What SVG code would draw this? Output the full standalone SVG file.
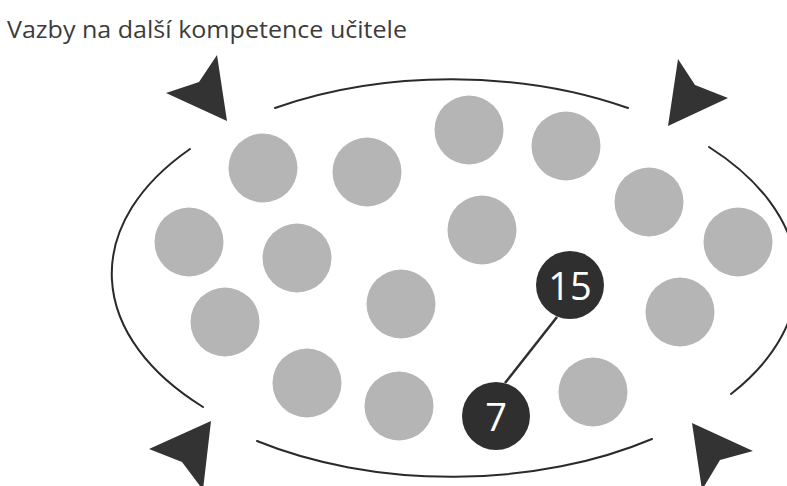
<svg xmlns="http://www.w3.org/2000/svg" width="787" height="486" viewBox="0 0 787 486">
  <style>
    .title { font-family: "Open Sans", "Noto Sans", "Liberation Sans", sans-serif; font-size: 23.5px; fill: #3c3c3c; }
    .arc { fill: none; stroke: #2a2a2a; stroke-width: 2; stroke-linecap: round; }
    .dart { fill: #333333; }
    .item { fill: #b5b5b5; }
    .key circle { fill: #2f2f2f; }
    .key text { font-family: "Open Sans", "Noto Sans", "Liberation Sans", sans-serif; font-size: 38px; fill: #ffffff; text-anchor: middle; }
    .link { stroke: #2f2f2f; stroke-width: 2.5; }
  </style>
  <rect width="787" height="486" fill="#ffffff"/>

  <text class="title" x="7" y="38" textLength="400" lengthAdjust="spacingAndGlyphs">Vazby na další kompetence učitele</text>

  <!-- broken ellipse outline -->
  <g id="outline">
    <path class="arc" d="M275,108 A338,195 0 0 1 628,108"/>
    <path class="arc" d="M709,147 A338,195 0 0 1 731,394"/>
    <path class="arc" d="M652,439 A338,195 0 0 1 257,441"/>
    <path class="arc" d="M203,407 A338,195 0 0 1 190,149"/>
  </g>

  <!-- corner darts -->
  <g id="darts">
    <polygon class="dart" points="166,93 199,82 217,55 227,121"/>
    <polygon class="dart" points="678,59 695,85 728,98 668,126"/>
    <polygon class="dart" points="149,449 211,421 203,490 182,462"/>
    <polygon class="dart" points="692,423 753,451 720,460 702,490"/>
  </g>

  <!-- competence circles -->
  <g id="items">
    <circle id="c1" class="item" cx="263" cy="168" r="34.5"/>
    <circle id="c2" class="item" cx="367" cy="172" r="34.5"/>
    <circle id="c3" class="item" cx="469" cy="130" r="34.5"/>
    <circle id="c4" class="item" cx="566" cy="146" r="34.5"/>
    <circle id="c5" class="item" cx="649" cy="202" r="34.5"/>
    <circle id="c6" class="item" cx="738" cy="242" r="34.5"/>
    <circle id="c7" class="item" cx="189" cy="242" r="34.5"/>
    <circle id="c8" class="item" cx="297" cy="258" r="34.5"/>
    <circle id="c9" class="item" cx="482" cy="230" r="34.5"/>
    <circle id="c10" class="item" cx="225" cy="322" r="34.5"/>
    <circle id="c11" class="item" cx="401" cy="304" r="34.5"/>
    <circle id="c12" class="item" cx="680" cy="312" r="34.5"/>
    <circle id="c13" class="item" cx="307" cy="383" r="34.5"/>
    <circle id="c14" class="item" cx="399" cy="406" r="34.5"/>
    <circle id="c16" class="item" cx="593" cy="392" r="34.5"/>
  </g>

  <!-- connector between the highlighted competences -->
  <g id="connectors">
    <line class="link" x1="557" y1="317" x2="505" y2="383"/>
  </g>

  <g id="n15" class="key">
    <circle cx="570" cy="285" r="34"/>
    <text x="570" y="300">15</text>
  </g>
  <g id="n7" class="key">
    <circle cx="496" cy="416" r="34"/>
    <text x="496" y="431">7</text>
  </g>
</svg>
